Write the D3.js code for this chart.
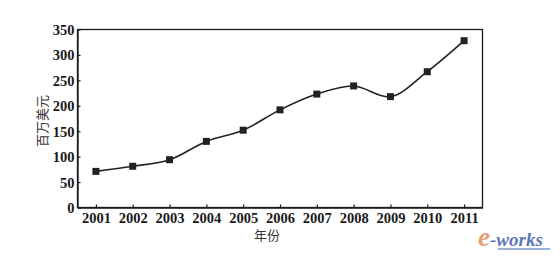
<!DOCTYPE html>
<html>
<head>
<meta charset="utf-8">
<script src="https://cdn.jsdelivr.net/npm/d3@7"></script>
<style>
  body { margin: 0; background: #fff; }
  svg { display: block; }
</style>
</head>
<body>
<div id="chart-area"></div>
<script>
// data
let years = [2001, 2002, 2003, 2004, 2005, 2006, 2007, 2008, 2009, 2010, 2011];
let values = [71, 81, 94, 130, 152, 192, 223, 239, 218, 267, 328];
let yTicks = [0, 50, 100, 150, 200, 250, 300, 350];
let xTitle = "年份";
let yTitle = "百万美元";

let width = 560, height = 260;
let plot = { left: 77.5, right: 482.5, top: 29.5, bottom: 207.5 };

let svgCanvas = d3.select("#chart-area")
                    .append("svg")
                    .attr("width", width)
                    .attr("height", height)

let x = d3.scaleLinear()
          .domain([2000.5, 2011.5])
          .range([plot.left, plot.right]);

let y = d3.scaleLinear()
          .domain([0, 350])
          .range([plot.bottom, plot.top]);

// frame
svgCanvas.append("rect")
    .attr("x", plot.left)
    .attr("y", plot.top)
    .attr("width", plot.right - plot.left)
    .attr("height", plot.bottom - plot.top)
    .attr("fill", "none")
    .attr("stroke", "#1a1a1a")
    .attr("stroke-width", 1.3)

// axes, ticks pointing inward
let xAxis = svgCanvas.append("g")
    .attr("transform", "translate(0," + plot.bottom + ")")
    .call(d3.axisBottom(x).tickValues(years).tickFormat(d3.format("d"))
            .tickSizeInner(-3).tickSizeOuter(0).tickPadding(5));

let yAxis = svgCanvas.append("g")
    .attr("transform", "translate(" + plot.left + ",0)")
    .call(d3.axisLeft(y).tickValues(yTicks)
            .tickSizeInner(-3).tickSizeOuter(0).tickPadding(3));

[xAxis, yAxis].forEach(g => {
    g.select(".domain").attr("stroke", "#1a1a1a").attr("stroke-width", 1.3);
    g.selectAll(".tick line").attr("stroke", "#1a1a1a").attr("stroke-width", 1.2);
    g.selectAll(".tick text")
        .attr("fill", "#1a1a1a")
        .style("font-family", "'Liberation Serif', 'Times New Roman', serif")
        .style("font-weight", "bold")
        .style("font-size", "14.5px");
});
xAxis.selectAll(".tick text").attr("dy", "0.71em");
yAxis.selectAll(".tick text").attr("dy", "0.34em");

// line
let line = d3.line()
    .x((d, i) => x(years[i]))
    .y(d => y(d))
    .curve(d3.curveCatmullRom.alpha(0.5));

svgCanvas.append("path")
    .datum(values)
    .attr("d", line)
    .attr("fill", "none")
    .attr("stroke", "#222")
    .attr("stroke-width", 1.6)

let s = 7;
svgCanvas.selectAll("rect.marker")
    .data(values)
    .enter().append("rect")
    .attr("class", "marker")
    .attr("x", (d, i) => x(years[i]) - s / 2)
    .attr("y", d => y(d) - s / 2)
    .attr("width", s)
    .attr("height", s)
    .attr("fill", "#222")

// axis titles
svgCanvas.append("text")
    .attr("x", 267)
    .attr("y", 240)
    .attr("text-anchor", "middle")
    .attr("fill", "#333")
    .style("font-family", "'Noto Sans CJK SC', sans-serif")
    .style("font-size", "13px")
    .text(xTitle)

svgCanvas.append("text")
    .attr("transform", "translate(47,121) rotate(-90)")
    .attr("text-anchor", "middle")
    .attr("fill", "#333")
    .style("font-family", "'Noto Sans CJK SC', sans-serif")
    .style("font-size", "13px")
    .text(yTitle)

// watermark
let logo = svgCanvas.append("text")
    .attr("x", 478)
    .attr("y", 246)
    .style("font-family", "'Liberation Serif', serif")
    .style("font-style", "italic")
    .style("font-weight", "bold")
logo.append("tspan")
    .attr("fill", "#e9a070")
    .style("font-size", "27px")
    .text("e")
logo.append("tspan")
    .attr("fill", "#5a78b8")
    .style("font-size", "19px")
    .text("-works")

svgCanvas.append("rect")
    .attr("x", 498)
    .attr("y", 248)
    .attr("width", 52)
    .attr("height", 2)
    .attr("fill", "#9ab0d8")
</script>
</body>
</html>
